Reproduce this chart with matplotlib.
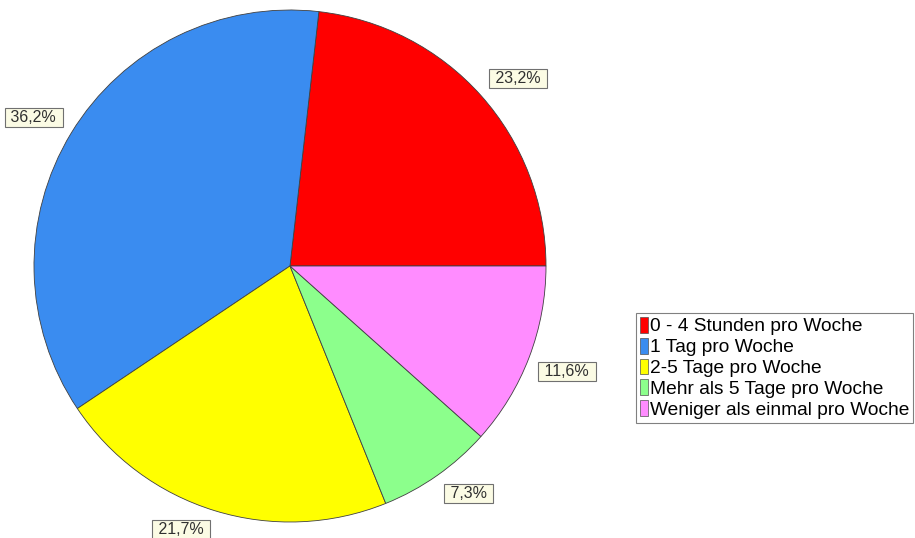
import numpy as np
import matplotlib
matplotlib.use("Agg")
import matplotlib.pyplot as plt
from matplotlib.patches import Patch

plt.rcParams["font.family"] = ["Liberation Sans", "DejaVu Sans"]

# Nutzungshäufigkeit (Anteile in %)
categories = [
    "0 - 4 Stunden pro Woche",
    "1 Tag pro Woche",
    "2-5 Tage pro Woche",
    "Mehr als 5 Tage pro Woche",
    "Weniger als einmal pro Woche",
]
shares = [23.2, 36.2, 21.7, 7.3, 11.6]
labels = ["23,2%", "36,2%", "21,7%", "7,3%", "11,6%"]
colors = ["#ff0000", "#3a8cf0", "#ffff00", "#8cff8c", "#ff8cff"]

W, H = 915, 538
fig = plt.figure(figsize=(W / 100, H / 100), dpi=100)
cx, cy, r = 290, 266, 256
ax = fig.add_axes([(cx - r) / W, (H - cy - r) / H, 2 * r / W, 2 * r / H])

wedges, _ = ax.pie(shares, colors=colors, startangle=0, counterclock=True,
                   radius=1.0,
                   wedgeprops=dict(edgecolor="#404040", linewidth=0.6))
ax.set_xlim(-1, 1)
ax.set_ylim(-1, 1)
ax.set_aspect("equal")
ax.axis("off")

# value boxes: the corner nearest the pie sits just outside the rim
pad_px = 4
for w, lab in zip(wedges, labels):
    mid = np.deg2rad((w.theta1 + w.theta2) / 2)
    c, s = np.cos(mid), np.sin(mid)
    ax.annotate(" " + lab + " ", xy=(1.03 * c, 1.03 * s),
                xytext=(np.sign(c) * pad_px, np.sign(s) * pad_px),
                textcoords="offset pixels",
                ha="left" if c > 0 else "right",
                va="bottom" if s > 0 else "top",
                fontsize=11.5, color="#303030", annotation_clip=False,
                bbox=dict(boxstyle="square,pad=0.12", facecolor="#fbfbe4",
                          edgecolor="#707070", linewidth=0.8))

handles = [Patch(facecolor=c, edgecolor="#505050", linewidth=0.5) for c in colors]
leg = fig.legend(handles, categories, loc="upper left",
                 bbox_to_anchor=(636 / W, 1 - 313 / H),
                 fontsize=13.8, handlelength=0.42, handleheight=0.9,
                 handletextpad=0.12, labelspacing=0.12, borderpad=0.2,
                 borderaxespad=0, fancybox=False, framealpha=1,
                 edgecolor="#808080")
leg.get_frame().set_linewidth(0.8)

fig.savefig("out.png", dpi=100)
